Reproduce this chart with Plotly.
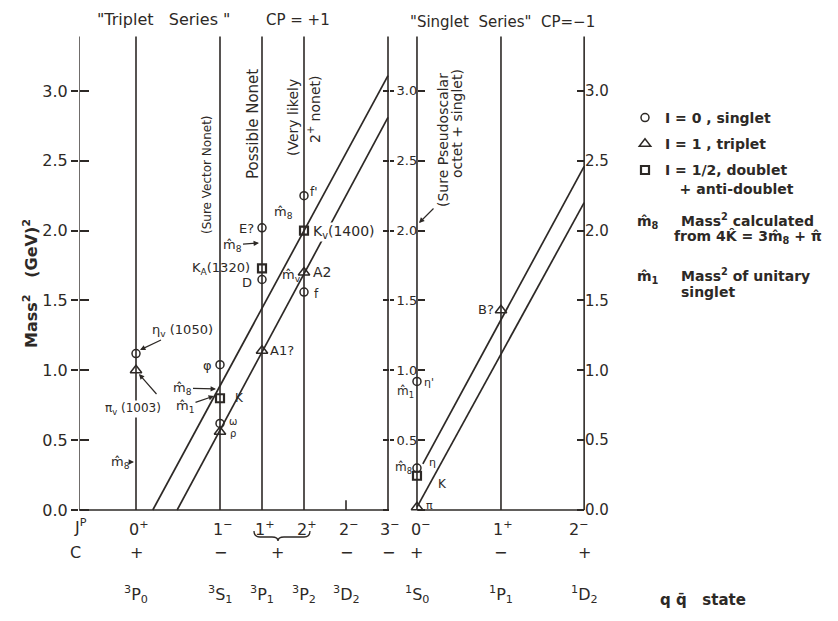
import plotly.graph_objects as go

INK = "#2d2926"
FONT = "DejaVu Sans"

# ---------------- data ----------------
COL_NAMES = ["0+", "1-", "1+", "2+", "2-", "3-", "0-", "1+s", "2-s"]
COL_X = [0, 2, 3, 4, 5, 6, 6.69, 8.69, 10.67]
COL = dict(zip(COL_NAMES, COL_X))
AXIS_LEFT_X = -1.36
LINE_TOP = 3.39

JP_LABELS = ["0<sup>+</sup>", "1<sup>−</sup>", "1<sup>+</sup>", "2<sup>+</sup>", "2<sup>−</sup>",
             "3<sup>−</sup>", "0<sup>−</sup>", "1<sup>+</sup>", "2<sup>−</sup>"]
JP_SHIFT = [3, 3, 3, 3, 3, 2, 4, 2, -5]
C_LABELS = ["+", "−", "", "", "−", "−", "+", "−", "+"]
STATE_LABELS = ["<sup>3</sup>P<sub>0</sub>", "<sup>3</sup>S<sub>1</sub>", "<sup>3</sup>P<sub>1</sub>",
                "<sup>3</sup>P<sub>2</sub>", "<sup>3</sup>D<sub>2</sub>", "",
                "<sup>1</sup>S<sub>0</sub>", "<sup>1</sup>P<sub>1</sub>", "<sup>1</sup>D<sub>2</sub>"]

# I = 0 (singlet) states
I0_COL = ["0+", "1-", "1-", "1+", "1+", "2+", "2+", "0-", "0-"]
I0_M2 = [1.12, 1.04, 0.62, 2.02, 1.65, 2.25, 1.56, 0.92, 0.30]
# I = 1 (triplet) states
I1_COL = ["0+", "1-", "1+", "2+", "0-", "1+s"]
I1_M2 = [1.00, 0.56, 1.14, 1.70, 0.02, 1.43]
# I = 1/2 (doublet) states
IH_COL = ["1-", "1+", "2+", "0-"]
IH_M2 = [0.80, 1.73, 2.00, 0.245]

# straight-line trajectories
TRAJ_L_UP_X, TRAJ_L_UP_Y = [0.40, 6.0], [0.0, 3.11]
TRAJ_L_LO_X, TRAJ_L_LO_Y = [0.98, 6.0], [0.0, 2.81]
TRAJ_R_UP_X, TRAJ_R_UP_Y = [6.83, 10.67], [0.33, 2.46]
TRAJ_R_LO_X, TRAJ_R_LO_Y = [6.69, 10.67], [0.02, 2.20]

TICK_VALS = [0.0, 0.5, 1.0, 1.5, 2.0, 2.5, 3.0]
TICK_TEXT = ["0.0", "0.5", "1.0", "1.5", "2.0", "2.5", "3.0"]

# ---------------- geometry helpers (layout placement, page pixels) ----------------
OFF = 8                      # default page margin around the plot div
PX_X0, PX_PER_X = 136, 42.0
PX_Y0, PX_PER_Y = 510, 139.7
PAGE_W, PAGE_H = 838, 621
PLOT_L = 79
W, H = PAGE_W - OFF, PAGE_H - OFF


def X(px):
    return (px - PX_X0) / PX_PER_X


def Y(py):
    return (PX_Y0 - py) / PX_PER_Y


def PF(px):
    return (px - PLOT_L) / (PAGE_W - PLOT_L)


def PFY(py):
    return 1 - (py - OFF) / H


X_RANGE = [X(PLOT_L), X(PAGE_W)]
Y_RANGE = [Y(PAGE_H), Y(OFF)]

fig = go.Figure()

# trajectories
for tx, ty in [(TRAJ_L_UP_X, TRAJ_L_UP_Y), (TRAJ_L_LO_X, TRAJ_L_LO_Y),
               (TRAJ_R_UP_X, TRAJ_R_UP_Y), (TRAJ_R_LO_X, TRAJ_R_LO_Y)]:
    fig.add_trace(go.Scatter(x=tx, y=ty, mode="lines", line=dict(color=INK, width=1.7),
                             showlegend=False, hoverinfo="skip"))

# states
fig.add_trace(go.Scatter(x=[COL[c] for c in I0_COL], y=I0_M2, mode="markers",
                         name="I = 0 , singlet", legendgroup="g0",
                         marker=dict(symbol="circle-open", size=8, color=INK, line=dict(width=1.5, color=INK))))
fig.add_trace(go.Scatter(x=[COL[c] for c in I1_COL], y=I1_M2, mode="markers",
                         name="I = 1 , triplet", legendgroup="g1",
                         marker=dict(symbol="triangle-up-open", size=10, color=INK, line=dict(width=1.5, color=INK))))
fig.add_trace(go.Scatter(x=[COL[c] for c in IH_COL], y=IH_M2, mode="markers",
                         name="I = 1/2, doublet<br>   + anti-doublet", legendgroup="g2",
                         marker=dict(symbol="square-open", size=8, color=INK, line=dict(width=2.2, color=INK))))

# dummy traces so that the extra tick axes are drawn
for ax in ["y2", "y3", "y4", "y5", "y6"]:
    fig.add_trace(go.Scatter(x=[], y=[], yaxis=ax, showlegend=False, hoverinfo="skip"))

shapes = []


def vline(x, y0, y1, w=1.6):
    shapes.append(dict(type="line", xref="x", yref="y", x0=x, x1=x, y0=y0, y1=y1,
                       line=dict(color=INK, width=w)))


for name in ["0+", "1-", "1+", "2+", "3-", "0-", "1+s", "2-s"]:
    vline(COL[name], 0, LINE_TOP)
vline(AXIS_LEFT_X, 0, LINE_TOP)
vline(COL["2-"], 0, 0.07)
shapes.append(dict(type="line", xref="x", yref="y", x0=AXIS_LEFT_X, x1=COL["3-"], y0=0, y1=0,
                   line=dict(color=INK, width=1.6)))
shapes.append(dict(type="line", xref="x", yref="y", x0=COL["0-"], x1=COL["2-s"], y0=0, y1=0,
                   line=dict(color=INK, width=1.6)))
# brace under 1+ 2+
bx0, bx1, bxm = X(254), X(310), X(278)
by0, by1, by2 = Y(531), Y(537), Y(541)
shapes.append(dict(type="path", xref="x", yref="y",
                   path=(f"M {bx0},{by0} Q {bx0},{by1} {X(260)},{by1} L {X(272)},{by1} "
                         f"Q {bxm},{by1} {bxm},{by2} Q {bxm},{by1} {X(284)},{by1} "
                         f"L {X(304)},{by1} Q {bx1},{by1} {bx1},{by0}"),
                   line=dict(color=INK, width=1.3)))

ann = []


def txt(px, py, text, size=13, xanchor="center", angle=0, bg=None, bold=False):
    d = dict(x=PF(px), y=PFY(py), xref="paper", yref="paper", text=text, showarrow=False,
             font=dict(family=FONT, size=size, color=INK, weight="bold" if bold else "normal"),
             xanchor=xanchor, yanchor="middle", textangle=angle)
    if bg:
        d["bgcolor"] = bg
        d["borderpad"] = 0
    ann.append(d)


def arrow(px, py, tx, ty, text=" ", size=13):
    ann.append(dict(x=X(tx), y=Y(ty), ax=X(px), ay=Y(py), xref="x", yref="y", axref="x", ayref="y",
                    text=text, showarrow=True, arrowhead=2, arrowsize=0.9, arrowwidth=1.2,
                    arrowcolor=INK, font=dict(family=FONT, size=size, color=INK), standoff=0))


# titles
txt(163, 20, "\"Triplet   Series \"", 16)
txt(298, 20, "CP = +1", 15)
txt(503, 22, "\"Singlet  Series\"  CP=−1", 15)

# axis title
txt(30, 283, "Mass<sup>2</sup>   (GeV)<sup>2</sup>", 16, angle=-90, bold=True)

# vertical captions
txt(207, 175, "(Sure Vector Nonet)", 12, angle=-90)
txt(253, 124, "Possible Nonet", 15, angle=-90)
txt(293, 118, "(Very likely", 14, angle=-90)
txt(314, 110, "2<sup>+</sup> nonet)", 14, angle=-90)
txt(443, 140, "(Sure Pseudoscalar", 14, angle=-90)
txt(457, 124, "octet + singlet)", 14, angle=-90)
arrow(437, 205, 419, 223)

# bottom rows
txt(80, 526, "J<sup>P</sup>", 16)
txt(75, 552, "C", 16)
for name, jp, sh, c, st in zip(COL_NAMES, JP_LABELS, JP_SHIFT, C_LABELS, STATE_LABELS):
    cx = PX_X0 + COL[name] * PX_PER_X
    txt(cx + sh, 528, jp, 16)
    if c:
        txt(cx, 552, c, 16)
    if st:
        txt(cx, 594, st, 16)
txt(277, 552, "+", 16)
txt(703, 600, "q q̄   state", 15, bold=True)

# point labels, left panel
arrow(182, 330, 140, 350, "η<sub>v</sub> (1050)")
txt(133, 409, "π<sub>v</sub> (1003)", 12, bg="white")
arrow(160, 398, 139, 374)
arrow(120, 462, 134, 462, "m̂<sub>8</sub>")
txt(207, 365, "φ", 13)
arrow(182, 388, 216, 389, "m̂<sub>8</sub>")
arrow(185, 406, 214, 396, "m̂<sub>1</sub>")
txt(239, 398, "K", 12)
txt(233, 421, "ω", 10)
txt(233, 433, "ρ", 10)
txt(246, 228, "E?", 13)
arrow(232, 245, 259, 243, "m̂<sub>8</sub>")
txt(221, 268, "K<sub>A</sub>(1320)", 13)
txt(247, 282, "D", 13)
txt(282, 350, "A1?", 13)
txt(283, 213, "m̂<sub>8</sub>", 13)
txt(344, 232, "K<sub>v</sub>(1400)", 14, bg="white")
txt(291, 275, "m̂<sub>v</sub>", 13)
txt(322, 272, "A2", 14)
txt(314, 192, "f'", 12)
txt(316, 294, "f", 12)

# point labels, right panel
txt(405, 392, "m̂<sub>1</sub>", 12)
txt(429, 382, "η'", 11)
txt(403, 468, "m̂<sub>8</sub>", 12)
txt(432, 462, "η", 11)
txt(442, 484, "K", 12)
txt(429, 505, "π", 11)
txt(486, 309, "B?", 13)

# explanatory notes near legend
txt(648, 222, "m̂<sub>8</sub>", 14, bold=True)
txt(679, 220, "Mass<sup>2</sup> calculated", 14, xanchor="left", bold=True)
txt(672, 237, "from 4K̂ = 3m̂<sub>8</sub> + π̂", 14, xanchor="left", bold=True)
txt(648, 277, "m̂<sub>1</sub>", 14, bold=True)
txt(679, 275, "Mass<sup>2</sup> of unitary", 14, xanchor="left", bold=True)
txt(679, 292, "singlet", 14, xanchor="left", bold=True)

base_y = dict(range=Y_RANGE, showgrid=False, zeroline=False, showline=False,
              tickvals=TICK_VALS, ticktext=TICK_TEXT, tickcolor=INK, tickwidth=1.5,
              tickfont=dict(family=FONT, size=16, color=INK), fixedrange=True)

fig.update_layout(
    width=W, height=H,
    margin=dict(l=PLOT_L - OFF, r=0, t=0, b=0, autoexpand=False),
    paper_bgcolor="white", plot_bgcolor="white",
    xaxis=dict(range=X_RANGE, visible=False, fixedrange=True),
    yaxis=dict(**base_y, side="left", ticks="outside", ticklen=7),
    yaxis6=dict(**base_y, overlaying="y", anchor="free", position=0, side="left",
                ticks="inside", ticklen=9, showticklabels=False),
    yaxis2=dict(**{**base_y, "tickvals": TICK_VALS[1:], "ticktext": TICK_TEXT[1:],
                   "tickfont": dict(family=FONT, size=13, color=INK)},
                overlaying="y", anchor="free", position=PF(389), side="right",
                ticks="outside", ticklen=4),
    yaxis3=dict(**base_y, overlaying="y", anchor="free", position=PF(389), side="right",
                ticks="inside", ticklen=6, showticklabels=False),
    yaxis4=dict(**base_y, overlaying="y", anchor="free", position=PF(417), side="left",
                ticks="inside", ticklen=7, showticklabels=False),
    yaxis5=dict(**{**base_y, "tickfont": dict(family=FONT, size=15, color=INK)},
                overlaying="y", anchor="free", position=PF(584), side="right",
                ticks="inside", ticklen=7),
    legend=dict(x=PF(625), y=PFY(102), xanchor="left", yanchor="top",
                font=dict(family=FONT, size=14, color=INK, weight="bold"), bgcolor="rgba(0,0,0,0)",
                tracegroupgap=5, traceorder="grouped", valign="top"),
    shapes=shapes,
    annotations=ann,
    showlegend=True,
)

fig.write_html("out.html")
